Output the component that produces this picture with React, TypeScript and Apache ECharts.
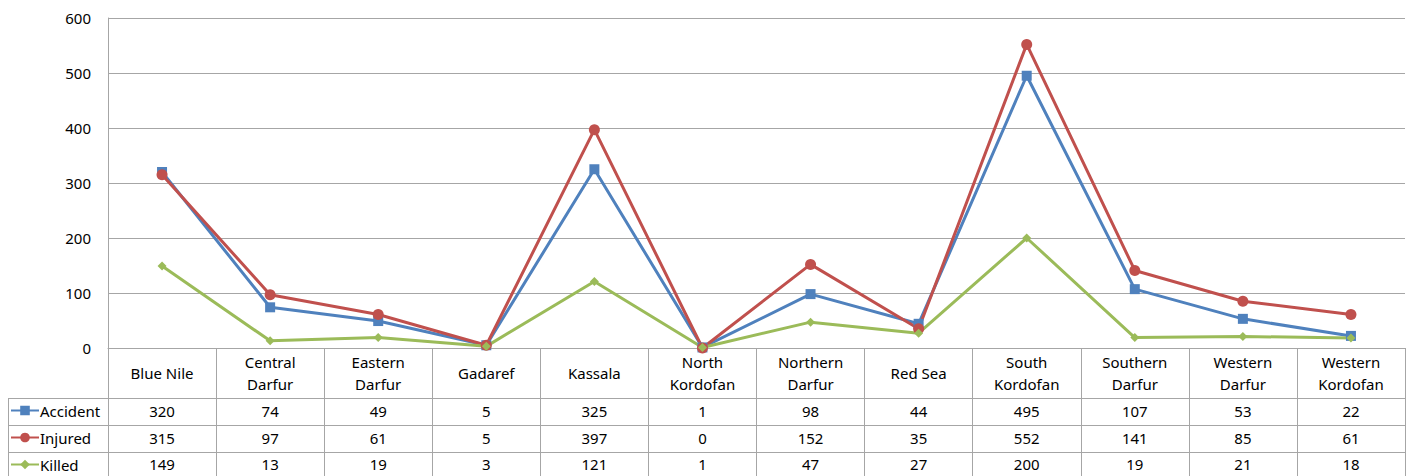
import React, { useEffect, useRef } from "react";
import * as echarts from "echarts";

const categories = [
  "Blue Nile",
  "Central\nDarfur",
  "Eastern\nDarfur",
  "Gadaref",
  "Kassala",
  "North\nKordofan",
  "Northern\nDarfur",
  "Red Sea",
  "South\nKordofan",
  "Southern\nDarfur",
  "Western\nDarfur",
  "Western\nKordofan",
];
const accident = [320, 74, 49, 5, 325, 1, 98, 44, 495, 107, 53, 22];
const injured = [315, 97, 61, 5, 397, 0, 152, 35, 552, 141, 85, 61];
const killed = [149, 13, 19, 3, 121, 1, 47, 27, 200, 19, 21, 18];
const seriesNames = ["Accident", "Injured", "Killed"];
const colors = ["#4F81BD", "#C0504D", "#9BBB59"];

const FONT = "'Noto Sans', sans-serif";
const FS = 15;
const LINE = "#a6a6a6";

export default function App() {
  const ref = useRef<HTMLDivElement>(null);
  useEffect(() => {
    if (!ref.current) return;
    const chart = echarts.init(ref.current, undefined, { renderer: "svg" });
    const left = 108;
    const right = 1405;
    const zeroY = 348;
    const rowLines = [398, 425, 452];
    const rowCenters = [411, 438, 464];
    const valueRows = [accident, injured, killed];

    const valueAxes = valueRows.map((arr, k) => ({
      type: "category" as const,
      data: categories,
      position: "bottom" as const,
      gridIndex: 0,
      boundaryGap: true,
      axisLine: { show: false },
      axisTick: { show: false },
      splitLine: { show: false },
      axisLabel: {
        interval: 0,
        margin: rowCenters[k] - zeroY,
        verticalAlign: "middle" as const,
        fontSize: FS,
        fontFamily: FONT,
        color: "#000",
        formatter: (_v: string, i: number) => String(arr[i]),
      },
    }));

    chart.setOption({
      animation: false,
      textStyle: { fontFamily: FONT },
      grid: { left, right: 1416 - right, top: 18, bottom: 476 - zeroY, containLabel: false },
      legend: {
        orient: "vertical",
        left: 10,
        top: 401,
        height: 75,
        padding: 0,
        itemWidth: 28,
        itemHeight: 12,
        itemGap: 8,
        data: seriesNames,
        textStyle: {
          fontSize: FS,
          lineHeight: 19,
          color: "#000",
          fontFamily: FONT,
          padding: [0, 0, 0, -4],
        },
      },
      xAxis: [
        {
          type: "category",
          data: categories,
          boundaryGap: true,
          axisLine: { show: true, lineStyle: { color: LINE, width: 1 } },
          axisTick: {
            show: true,
            interval: 0,
            length: 476 - zeroY,
            lineStyle: { color: LINE, width: 1 },
          },
          axisLabel: {
            interval: 0,
            margin: 25,
            verticalAlign: "middle",
            lineHeight: 22,
            fontSize: FS,
            fontFamily: FONT,
            color: "#000",
          },
        },
        ...valueAxes,
      ],
      yAxis: {
        type: "value",
        min: 0,
        max: 600,
        interval: 100,
        axisLine: { show: true, lineStyle: { color: LINE, width: 1 } },
        axisTick: { show: false },
        splitLine: { show: true, lineStyle: { color: LINE, width: 1 } },
        axisLabel: { fontSize: FS, fontFamily: FONT, color: "#000", margin: 17 },
      },
      series: [
        {
          name: seriesNames[0],
          type: "line",
          data: accident,
          symbol: "rect",
          symbolSize: 10,
          lineStyle: { color: colors[0], width: 3 },
          itemStyle: { color: colors[0] },
        },
        {
          name: seriesNames[1],
          type: "line",
          data: injured,
          symbol: "circle",
          symbolSize: 11,
          lineStyle: { color: colors[1], width: 3 },
          itemStyle: { color: colors[1] },
        },
        {
          name: seriesNames[2],
          type: "line",
          data: killed,
          symbol: "diamond",
          symbolSize: 9,
          lineStyle: { color: colors[2], width: 3 },
          itemStyle: { color: colors[2] },
        },
      ],
      graphic: [
        ...rowLines.map((y) => ({
          type: "line",
          shape: { x1: 8, y1: y + 0.5, x2: right + 0.5, y2: y + 0.5 },
          style: { stroke: LINE, lineWidth: 1 },
          silent: true,
        })),
        {
          type: "line",
          shape: { x1: 8.5, y1: rowLines[0], x2: 8.5, y2: 476 },
          style: { stroke: LINE, lineWidth: 1 },
          silent: true,
        },
      ],
    });
    return () => chart.dispose();
  }, []);
  return (
    <div
      ref={ref}
      style={{ position: "fixed", left: 0, top: 0, width: 1416, height: 476, background: "#fff" }}
    />
  );
}
